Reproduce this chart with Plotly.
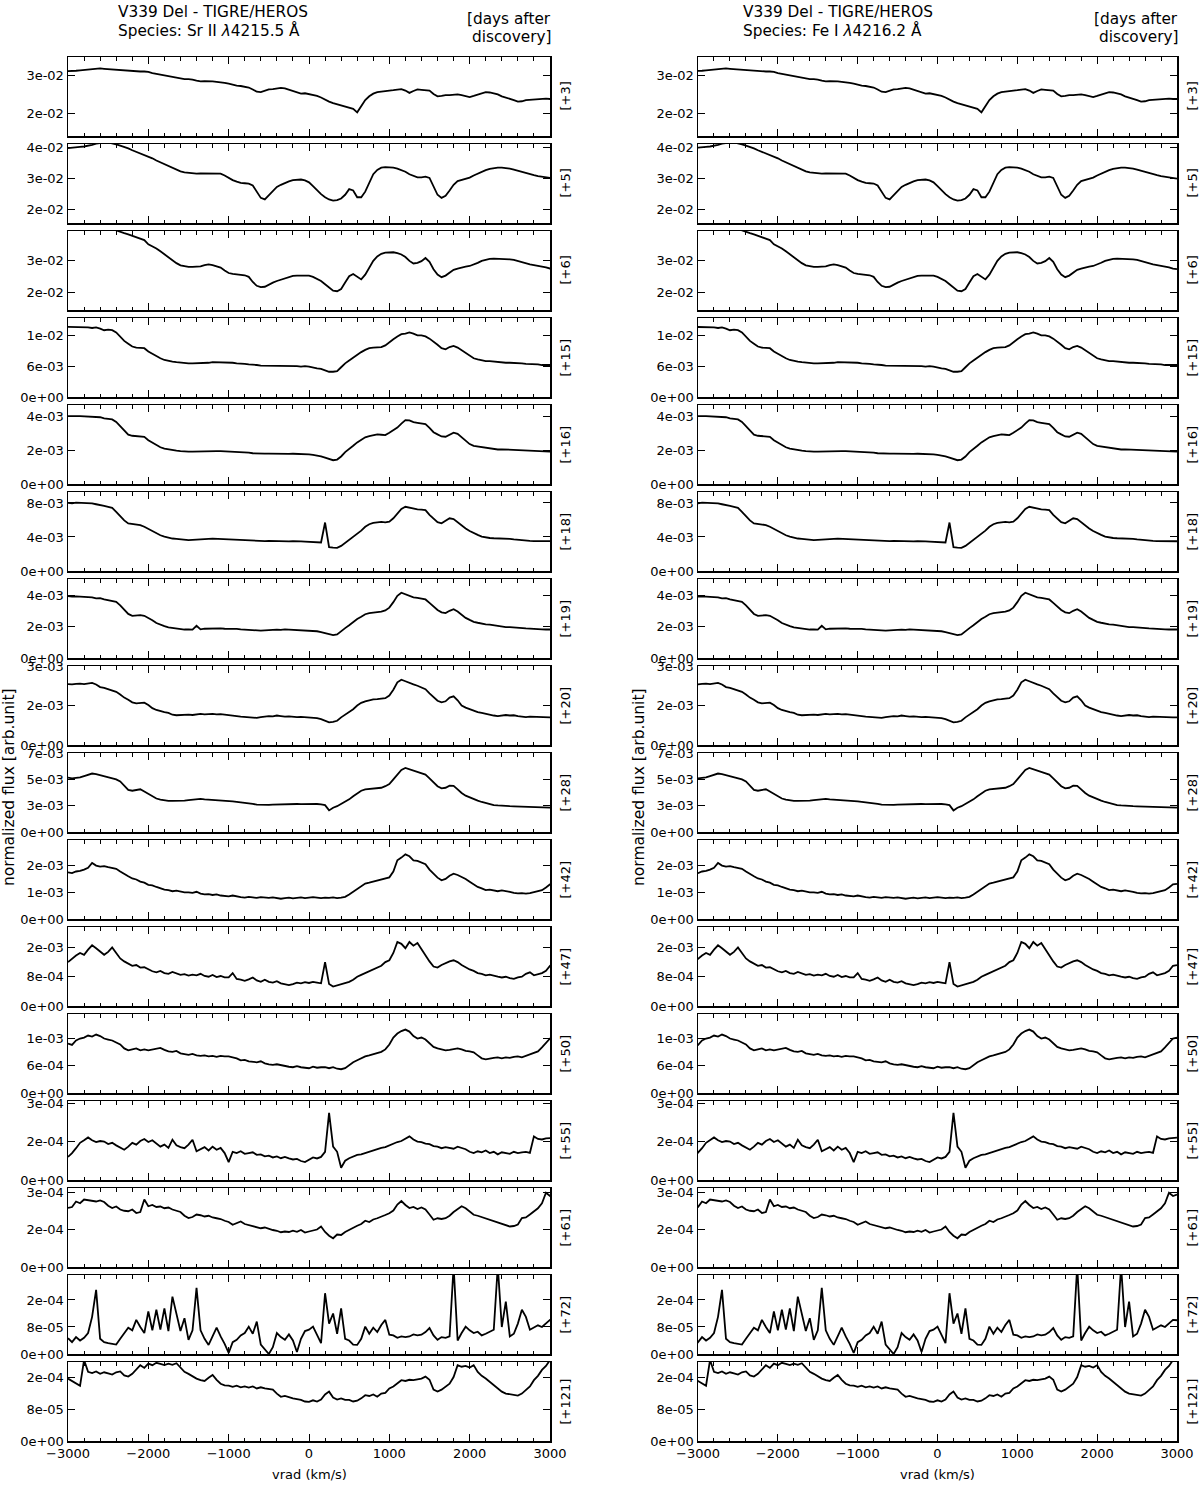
import plotly.graph_objects as go

# ---------------- data ----------------
C_KMS = 299792.458
LAM_SR = 4215.5   # Sr II reference wavelength (A)
LAM_FE = 4216.2   # Fe I reference wavelength (A)
VRAD_SR = list(range(-3000, 3051, 50))   # radial velocity grid w.r.t. Sr II (km/s)

EPOCHS = ["+3", "+5", "+6", "+15", "+16", "+18", "+19", "+20",
          "+28", "+42", "+47", "+50", "+55", "+61", "+72", "+121"]
UNITS = [1e-2, 1e-2, 1e-2, 1e-3, 1e-3, 1e-3, 1e-3, 1e-3,
         1e-3, 1e-3, 1e-3, 1e-3, 1e-4, 1e-4, 1e-4, 1e-4]

F_P03 = [3.11,3.11,3.12,3.13,3.14,3.15,3.16,3.17,3.18,3.17,
         3.16,3.15,3.15,3.14,3.13,3.12,3.12,3.11,3.10,3.10,
         3.09,3.06,3.04,3.01,2.99,2.97,2.97,2.95,2.92,2.90,
         2.90,2.89,2.86,2.84,2.85,2.85,2.84,2.83,2.82,2.80,
         2.78,2.75,2.73,2.72,2.71,2.68,2.63,2.57,2.56,2.60,
         2.63,2.64,2.65,2.67,2.66,2.63,2.60,2.56,2.52,2.53,
         2.51,2.48,2.46,2.42,2.36,2.31,2.27,2.24,2.21,2.17,
         2.16,2.12,2.03,2.19,2.35,2.45,2.52,2.56,2.58,2.59,
         2.60,2.61,2.63,2.64,2.60,2.54,2.59,2.63,2.62,2.61,
         2.60,2.51,2.45,2.46,2.48,2.48,2.49,2.50,2.48,2.46,
         2.43,2.46,2.50,2.54,2.56,2.55,2.53,2.50,2.45,2.42,
         2.38,2.35,2.31,2.32,2.35,2.36,2.37,2.37,2.38,2.39,
         2.38,2.38]
F_P05 = [3.98,4.00,4.01,4.02,4.03,4.05,4.08,4.12,4.15,4.16,
         4.16,4.14,4.10,4.06,4.02,3.97,3.91,3.86,3.80,3.75,
         3.70,3.65,3.58,3.52,3.46,3.39,3.33,3.27,3.23,3.20,
         3.18,3.17,3.16,3.17,3.17,3.17,3.18,3.18,3.16,3.10,
         3.02,2.95,2.90,2.86,2.85,2.84,2.78,2.58,2.38,2.33,
         2.46,2.62,2.73,2.80,2.86,2.91,2.95,2.97,2.97,2.94,
         2.88,2.76,2.62,2.50,2.40,2.33,2.29,2.31,2.36,2.48,
         2.66,2.62,2.40,2.40,2.58,2.88,3.14,3.28,3.35,3.37,
         3.37,3.35,3.32,3.28,3.22,3.14,3.08,3.04,3.04,3.06,
         3.02,2.72,2.48,2.38,2.45,2.62,2.80,2.92,2.96,2.99,
         3.03,3.10,3.16,3.22,3.27,3.31,3.34,3.35,3.35,3.34,
         3.32,3.29,3.25,3.21,3.17,3.14,3.11,3.08,3.06,3.03,
         3.01,3.00]
F_P06 = [4.30,4.30,4.29,4.28,4.27,4.25,4.22,4.18,4.14,4.08,
         4.03,3.98,3.93,3.89,3.85,3.81,3.77,3.73,3.69,3.63,
         3.50,3.44,3.37,3.28,3.18,3.10,3.01,2.91,2.84,2.81,
         2.79,2.79,2.79,2.81,2.85,2.87,2.85,2.81,2.77,2.68,
         2.60,2.57,2.55,2.54,2.53,2.48,2.32,2.20,2.16,2.17,
         2.24,2.30,2.35,2.39,2.42,2.46,2.51,2.52,2.52,2.53,
         2.52,2.48,2.42,2.35,2.25,2.15,2.05,2.03,2.10,2.30,
         2.50,2.57,2.47,2.40,2.55,2.78,2.98,3.12,3.20,3.24,
         3.25,3.25,3.22,3.18,3.10,2.98,2.90,2.92,2.97,3.07,
         2.95,2.72,2.55,2.47,2.52,2.62,2.70,2.74,2.78,2.80,
         2.82,2.86,2.92,2.98,3.02,3.04,3.05,3.05,3.04,3.04,
         3.03,3.01,2.97,2.94,2.90,2.87,2.85,2.83,2.80,2.78,
         2.74,2.72]
F_P15 = [12.5,12.5,12.4,12.5,12.4,12.4,12.3,12.4,12.2,11.9,
         12.0,11.9,11.5,10.8,10.0,9.5,9.0,8.8,8.7,8.7,
         8.1,7.7,7.2,6.9,6.6,6.4,6.3,6.2,6.1,6.0,
         6.0,6.0,6.0,6.1,6.1,6.1,6.2,6.2,6.2,6.2,
         6.1,6.1,6.0,6.0,5.9,5.8,5.8,5.7,5.6,5.6,
         5.6,5.6,5.6,5.5,5.6,5.5,5.5,5.5,5.4,5.5,
         5.4,5.2,5.1,5.0,4.8,4.5,4.5,4.6,5.3,6.0,
         6.5,7.0,7.6,8.0,8.4,8.7,8.8,8.9,8.9,9.2,
         9.8,10.3,10.8,11.2,11.3,11.5,11.3,11.0,11.0,10.8,
         10.4,9.9,9.3,8.7,8.5,8.9,9.1,8.8,8.3,7.8,
         7.3,6.9,6.7,6.5,6.4,6.4,6.3,6.2,6.2,6.1,
         6.1,6.1,6.0,6.0,5.9,5.9,5.8,5.8,5.7,5.7,
         5.7,5.7]
F_P16 = [4.00,3.98,3.99,4.00,3.99,3.97,3.98,3.95,3.93,3.86,
         3.82,3.80,3.65,3.40,3.10,2.90,2.84,2.83,2.80,2.78,
         2.58,2.45,2.28,2.16,2.08,2.03,2.00,1.96,1.93,1.90,
         1.90,1.91,1.92,1.93,1.93,1.94,1.93,1.94,1.93,1.92,
         1.92,1.91,1.90,1.89,1.88,1.85,1.81,1.79,1.78,1.79,
         1.79,1.78,1.78,1.79,1.78,1.77,1.78,1.78,1.77,1.76,
         1.74,1.71,1.68,1.63,1.55,1.48,1.40,1.44,1.62,1.88,
         2.05,2.25,2.45,2.62,2.75,2.82,2.88,2.92,2.90,2.88,
         3.02,3.15,3.32,3.55,3.76,3.74,3.64,3.60,3.57,3.52,
         3.30,3.05,2.92,2.80,2.78,2.90,3.02,2.95,2.75,2.52,
         2.35,2.24,2.20,2.18,2.15,2.10,2.05,2.03,2.04,2.03,
         2.01,2.00,1.99,1.98,1.96,1.95,1.94,1.93,1.91,1.90,
         1.90,1.90]
F_P18 = [8.00,7.96,8.04,8.02,8.06,8.03,7.95,7.85,7.78,7.66,
         7.55,7.42,6.95,6.40,5.95,5.60,5.52,5.48,5.40,5.20,
         4.95,4.70,4.40,4.20,4.05,3.90,3.82,3.78,3.70,3.65,
         3.62,3.65,3.70,3.72,3.75,3.78,3.80,3.78,3.76,3.75,
         3.74,3.72,3.70,3.65,3.62,3.58,3.55,3.52,3.50,3.52,
         3.55,3.52,3.50,3.52,3.50,3.48,3.50,3.52,3.48,3.45,
         3.42,3.40,3.36,3.35,5.70,2.80,2.75,2.72,2.95,3.30,
         3.65,4.05,4.40,4.75,5.20,5.50,5.65,5.75,5.78,5.72,
         5.80,6.20,6.75,7.30,7.55,7.45,7.30,7.25,7.22,7.15,
         6.60,6.15,5.75,5.60,5.85,6.20,6.10,5.70,5.30,5.00,
         4.70,4.45,4.25,4.05,3.92,3.88,3.85,3.85,3.83,3.80,
         3.78,3.72,3.66,3.62,3.60,3.55,3.52,3.52,3.50,3.52,
         3.50,3.50]
F_P19 = [3.94,3.90,3.92,3.90,3.88,3.90,3.85,3.79,3.80,3.72,
         3.68,3.62,3.57,3.35,3.04,2.80,2.68,2.70,2.72,2.68,
         2.55,2.40,2.22,2.10,2.02,1.94,1.90,1.87,1.84,1.81,
         1.82,1.80,2.05,1.82,1.86,1.87,1.88,1.87,1.88,1.86,
         1.87,1.86,1.85,1.82,1.80,1.78,1.75,1.72,1.74,1.76,
         1.78,1.77,1.80,1.79,1.82,1.80,1.79,1.76,1.74,1.75,
         1.74,1.72,1.70,1.65,1.58,1.48,1.45,1.50,1.72,1.90,
         2.08,2.30,2.48,2.62,2.78,2.85,2.88,2.92,2.94,3.02,
         3.20,3.55,3.95,4.15,4.05,3.92,3.85,3.82,3.78,3.72,
         3.50,3.25,3.05,2.90,2.85,3.00,3.10,2.95,2.72,2.55,
         2.42,2.30,2.24,2.18,2.14,2.12,2.08,2.02,1.98,1.96,
         1.96,1.93,1.92,1.91,1.88,1.87,1.84,1.83,1.82,1.81,
         1.81,1.81]
F_P20 = [2.31,2.30,2.32,2.33,2.31,2.34,2.36,2.30,2.20,2.17,
         2.12,2.08,2.02,1.92,1.80,1.72,1.62,1.58,1.60,1.61,
         1.52,1.40,1.33,1.28,1.25,1.22,1.15,1.13,1.14,1.16,
         1.15,1.14,1.16,1.18,1.16,1.17,1.18,1.16,1.17,1.15,
         1.14,1.12,1.10,1.08,1.07,1.06,1.04,1.03,1.06,1.08,
         1.10,1.09,1.12,1.10,1.08,1.09,1.07,1.06,1.07,1.06,
         1.05,1.04,1.02,0.98,0.92,0.86,0.88,0.92,1.05,1.16,
         1.24,1.36,1.50,1.60,1.66,1.70,1.73,1.74,1.75,1.78,
         1.88,2.10,2.38,2.48,2.42,2.35,2.30,2.25,2.20,2.12,
         1.96,1.80,1.68,1.62,1.66,1.80,1.85,1.70,1.50,1.42,
         1.36,1.30,1.25,1.22,1.18,1.16,1.12,1.10,1.12,1.14,
         1.12,1.13,1.10,1.08,1.06,1.08,1.07,1.06,1.05,1.05,
         1.05,1.05]
F_P28 = [5.16,5.10,5.14,5.18,5.30,5.45,5.55,5.50,5.40,5.28,
         5.16,5.08,5.00,4.80,4.40,4.00,3.92,4.02,4.06,3.85,
         3.62,3.40,3.18,3.08,3.00,2.96,2.96,2.95,2.97,2.98,
         3.02,3.08,3.12,3.14,3.10,3.08,3.06,3.04,3.02,2.98,
         2.92,2.90,2.85,2.82,2.78,2.72,2.66,2.60,2.58,2.56,
         2.58,2.60,2.62,2.64,2.62,2.64,2.65,2.66,2.64,2.66,
         2.65,2.64,2.66,2.62,2.55,2.05,2.30,2.45,2.65,2.90,
         3.10,3.40,3.70,3.92,4.05,4.10,4.14,4.16,4.20,4.35,
         4.55,5.00,5.45,5.90,6.08,5.95,5.78,5.65,5.55,5.45,
         5.10,4.70,4.35,4.15,4.20,4.40,4.38,4.05,3.70,3.45,
         3.28,3.12,2.98,2.85,2.74,2.62,2.56,2.52,2.48,2.46,
         2.45,2.44,2.42,2.40,2.38,2.36,2.34,2.33,2.32,2.32,
         2.31,2.31]
F_P42 = [1.75,1.72,1.78,1.80,1.85,1.92,2.10,2.00,1.96,1.98,
         1.94,1.90,1.88,1.78,1.68,1.60,1.52,1.48,1.40,1.36,
         1.28,1.26,1.20,1.14,1.10,1.08,1.04,1.06,1.02,1.00,
         1.00,0.98,1.02,0.95,0.92,0.93,0.90,0.92,0.88,0.87,
         0.85,0.88,0.84,0.82,0.80,0.83,0.81,0.79,0.82,0.80,
         0.79,0.81,0.78,0.76,0.78,0.80,0.77,0.79,0.81,0.78,
         0.79,0.82,0.80,0.78,0.80,0.79,0.81,0.78,0.80,0.83,
         0.92,1.02,1.12,1.25,1.33,1.36,1.40,1.44,1.48,1.50,
         1.56,1.78,2.20,2.30,2.42,2.35,2.20,2.18,2.10,2.05,
         1.85,1.68,1.55,1.45,1.50,1.62,1.70,1.65,1.58,1.50,
         1.40,1.30,1.20,1.15,1.08,1.10,1.06,1.04,1.07,1.05,
         1.02,0.98,0.96,0.97,0.95,0.97,1.00,1.04,1.08,1.18,
         1.30,1.32]
F_P47 = [1.20,1.30,1.38,1.45,1.40,1.54,1.66,1.58,1.50,1.40,
         1.48,1.60,1.45,1.30,1.22,1.15,1.10,1.12,1.05,1.06,
         1.00,0.95,0.92,0.96,0.90,0.88,0.93,0.90,0.85,0.87,
         0.83,0.86,0.84,0.88,0.82,0.80,0.85,0.79,0.82,0.78,
         0.78,0.90,0.74,0.72,0.69,0.73,0.78,0.70,0.66,0.72,
         0.66,0.64,0.68,0.62,0.60,0.57,0.60,0.64,0.62,0.65,
         0.63,0.66,0.64,0.62,1.20,0.60,0.53,0.56,0.60,0.63,
         0.66,0.72,0.80,0.85,0.90,0.95,1.00,1.04,1.10,1.20,
         1.25,1.45,1.75,1.70,1.58,1.75,1.65,1.72,1.55,1.40,
         1.22,1.08,1.05,1.12,1.18,1.22,1.25,1.20,1.12,1.05,
         1.00,0.96,0.90,0.88,0.84,0.86,0.82,0.80,0.78,0.80,
         0.76,0.74,0.78,0.80,0.88,0.92,0.84,0.86,0.90,0.96,
         1.10,1.12]
F_P50 = [1.00,0.97,1.06,1.10,1.12,1.16,1.14,1.18,1.15,1.10,
         1.08,1.06,1.02,0.98,0.90,0.86,0.88,0.90,0.86,0.88,
         0.86,0.88,0.90,0.91,0.87,0.84,0.83,0.85,0.80,0.78,
         0.77,0.79,0.76,0.75,0.76,0.74,0.75,0.73,0.75,0.74,
         0.74,0.72,0.70,0.66,0.67,0.64,0.63,0.62,0.64,0.60,
         0.58,0.57,0.58,0.56,0.55,0.53,0.52,0.54,0.52,0.51,
         0.50,0.53,0.51,0.52,0.52,0.50,0.52,0.49,0.48,0.50,
         0.56,0.62,0.66,0.70,0.74,0.76,0.78,0.80,0.83,0.88,
         0.98,1.12,1.20,1.25,1.28,1.24,1.15,1.10,1.12,1.08,
         1.00,0.93,0.90,0.88,0.86,0.87,0.88,0.90,0.88,0.85,
         0.84,0.82,0.76,0.70,0.68,0.70,0.71,0.72,0.70,0.72,
         0.71,0.73,0.74,0.72,0.75,0.78,0.80,0.84,0.92,1.00,
         1.10,1.12]
F_P55 = [0.90,1.05,1.24,1.45,1.55,1.66,1.55,1.48,1.52,1.50,
         1.40,1.45,1.35,1.25,1.18,1.30,1.45,1.38,1.52,1.60,
         1.48,1.55,1.42,1.30,1.38,1.25,1.57,1.35,1.28,1.24,
         1.38,1.57,1.12,1.20,1.28,1.15,1.30,1.18,1.25,1.05,
         0.70,1.10,1.05,1.12,1.02,1.05,1.08,0.98,1.00,0.92,
         0.95,0.88,0.92,0.85,0.90,0.84,0.80,0.82,0.74,0.70,
         0.80,0.88,0.84,0.90,1.10,2.62,1.30,1.10,0.48,0.75,
         0.85,0.92,0.98,1.00,1.05,1.12,1.18,1.22,1.25,1.28,
         1.35,1.40,1.48,1.52,1.60,1.70,1.58,1.50,1.48,1.42,
         1.40,1.32,1.30,1.24,1.28,1.26,1.22,1.30,1.25,1.20,
         1.10,1.05,1.12,1.08,1.15,1.05,1.10,1.00,1.08,1.05,
         1.02,1.10,1.05,1.08,1.10,1.06,1.70,1.60,1.58,1.62,
         1.63,1.65]
F_P61 = [2.36,2.40,2.62,2.55,2.70,2.68,2.65,2.62,2.66,2.60,
         2.45,2.36,2.42,2.30,2.25,2.23,2.30,2.16,2.20,2.70,
         2.43,2.48,2.40,2.42,2.35,2.38,2.30,2.26,2.20,2.05,
         1.96,2.00,2.10,2.07,2.02,2.05,1.98,1.95,1.92,1.85,
         1.80,1.69,1.75,1.82,1.72,1.68,1.62,1.60,1.55,1.58,
         1.52,1.48,1.45,1.39,1.42,1.40,1.45,1.41,1.48,1.38,
         1.42,1.45,1.50,1.62,1.40,1.25,1.15,1.30,1.28,1.40,
         1.49,1.55,1.65,1.72,1.85,1.80,1.90,1.95,2.03,2.08,
         2.15,2.26,2.50,2.64,2.48,2.36,2.40,2.32,2.38,2.30,
         2.10,1.89,1.95,1.92,1.95,2.05,2.20,2.30,2.43,2.35,
         2.20,2.09,2.05,2.00,1.92,1.89,1.85,1.80,1.72,1.69,
         1.62,1.64,1.70,1.96,1.98,2.10,2.23,2.35,2.55,2.97,
         2.84,2.90]
F_P72 = [0.47,0.35,0.50,0.40,0.48,0.62,1.10,1.90,0.45,0.35,
         0.32,0.30,0.28,0.45,0.62,0.78,0.70,1.01,0.80,0.62,
         1.26,0.70,1.31,0.72,1.35,0.68,1.70,1.20,0.68,1.06,
         0.42,0.70,1.96,0.70,0.45,0.27,0.55,0.78,0.52,0.30,
         0.03,0.35,0.42,0.55,0.62,0.81,0.60,0.96,0.28,0.15,
         0.00,0.20,0.62,0.50,0.42,0.58,0.40,0.06,0.45,0.68,
         0.72,0.81,0.55,0.32,1.80,0.90,1.20,0.60,1.35,0.45,
         0.40,0.28,0.27,0.45,0.81,0.60,0.78,0.65,0.86,1.01,
         0.57,0.55,0.48,0.52,0.50,0.52,0.58,0.55,0.57,0.65,
         0.77,0.55,0.42,0.50,0.48,0.52,2.60,0.40,0.62,0.81,
         0.70,0.62,0.66,0.55,0.60,0.66,0.72,2.60,0.80,1.55,
         0.52,0.60,0.90,1.31,1.10,0.72,0.78,0.85,0.80,0.92,
         1.01,1.00]
F_P121 = [1.58,1.52,1.48,1.40,2.05,1.75,1.72,1.76,1.70,1.74,
          1.71,1.68,1.74,1.76,1.66,1.63,1.70,1.80,1.92,1.85,
          1.96,1.92,1.98,1.95,1.92,1.96,1.93,1.97,1.85,1.75,
          1.70,1.63,1.58,1.54,1.52,1.60,1.67,1.55,1.45,1.41,
          1.40,1.37,1.40,1.36,1.38,1.35,1.38,1.33,1.36,1.33,
          1.32,1.30,1.20,1.12,1.14,1.10,1.08,1.06,1.04,1.00,
          0.99,1.03,1.00,1.05,1.18,1.25,1.10,1.05,1.08,1.04,
          1.04,1.00,1.02,1.08,1.16,1.14,1.18,1.12,1.20,1.22,
          1.33,1.38,1.45,1.54,1.52,1.55,1.54,1.56,1.58,1.63,
          1.55,1.30,1.25,1.30,1.38,1.45,1.62,1.92,1.88,1.90,
          1.86,1.92,1.75,1.65,1.58,1.50,1.40,1.33,1.25,1.20,
          1.18,1.16,1.15,1.20,1.30,1.38,1.54,1.65,1.80,1.90,
          2.05,2.15]

FLUX = [F_P03, F_P05, F_P06, F_P15, F_P16, F_P18, F_P19, F_P20,
        F_P28, F_P42, F_P47, F_P50, F_P55, F_P61, F_P72, F_P121]

# y axis ranges / ticks in the panel units above
Y_RANGE = [(1.41, 3.48), (1.574, 4.11), (1.442, 3.916), (0, 14.08),
           (0, 4.65), (0, 9.29), (0, 5.02), (0, 3.0005),
           (0, 7.5005), (0, 2.96), (0, 2.16), (0, 1.595),
           (0, 3.08), (0, 3.16), (0, 2.34), (0, 2.0)]
Y_TICKS = [[2, 3], [2, 3, 4], [2, 3], [0, 5.5, 11], [0, 2, 4], [0, 4, 8],
           [0, 2, 4], [0, 1.5, 3], [0, 2.5, 5, 7.5], [0, 1, 2],
           [0, 0.8, 1.6], [0, 0.55, 1.1], [0, 1.5, 3], [0, 1.5, 3],
           [0, 0.8, 1.6], [0, 0.8, 1.6]]
Y_TICKTEXT = [["2e-02", "3e-02"], ["2e-02", "3e-02", "4e-02"], ["2e-02", "3e-02"],
              ["0e+00", "6e-03", "1e-02"], ["0e+00", "2e-03", "4e-03"],
              ["0e+00", "4e-03", "8e-03"], ["0e+00", "2e-03", "4e-03"],
              ["0e+00", "2e-03", "3e-03"], ["0e+00", "3e-03", "5e-03", "7e-03"],
              ["0e+00", "1e-03", "2e-03"], ["0e+00", "8e-04", "2e-03"],
              ["0e+00", "6e-04", "1e-03"], ["0e+00", "2e-04", "3e-04"],
              ["0e+00", "2e-04", "3e-04"], ["0e+00", "8e-05", "2e-04"],
              ["0e+00", "8e-05", "2e-04"]]
X_TICKS = [-3000, -2000, -1000, 0, 1000, 2000, 3000]
X_TICKTEXT = ["\u22123000", "\u22122000", "\u22121000", "0", "1000", "2000", "3000"]
SPECIES = ["Sr II <i>\u03bb</i>4215.5 \u00c5", "Fe I <i>\u03bb</i>4216.2 \u00c5"]

for name, f in zip(EPOCHS, FLUX):
    if len(f) != len(VRAD_SR):
        raise ValueError(f"panel {name}: {len(f)} values, expected {len(VRAD_SR)}")

# Fe I velocity axis from the same wavelengths
VRAD_FE = [((LAM_SR * (1 + v / C_KMS)) - LAM_FE) / LAM_FE * C_KMS for v in VRAD_SR]
VRADS = [VRAD_SR, VRAD_FE]

# ---------------- layout ----------------
W, H = 1200, 1485
COL_X = [(68, 550), (698, 1177)]
TOP0, PITCH, PH = 57, 87, 79
FONT = "DejaVu Sans, Verdana, sans-serif"


def px(x):
    return x / W


def py(y):
    return 1 - y / H


fig = go.Figure()
layout = {}
annotations = []

for c in range(2):
    x0, x1 = COL_X[c]
    for i in range(16):
        idx = c * 16 + i + 1
        sfx = "" if idx == 1 else str(idx)
        unit = UNITS[i]
        fig.add_trace(go.Scatter(
            x=VRADS[c], y=[v * unit for v in FLUX[i]], mode="lines",
            line=dict(color="black", width=1.8),
            xaxis="x" + sfx, yaxis="y" + sfx, showlegend=False, hoverinfo="skip"))
        top = TOP0 + PITCH * i
        bot = top + PH
        common = dict(showline=True, linecolor="black", linewidth=1.5, mirror="allticks",
                      ticks="inside", ticklen=7, tickwidth=1, tickcolor="black",
                      showgrid=False, zeroline=False, automargin=False,
                      tickfont=dict(size=13, color="black", family=FONT))
        layout["xaxis" + sfx] = dict(
            domain=[px(x0), px(x1)], range=[-3000, 3000], anchor="y" + sfx,
            tickvals=X_TICKS, ticktext=X_TICKTEXT, showticklabels=(i == 15),
            minor=dict(ticks="inside", dtick=200, tick0=0, ticklen=3.5,
                       tickwidth=1, tickcolor="black", showgrid=False),
            **common)
        layout["yaxis" + sfx] = dict(
            domain=[py(bot), py(top)],
            range=[Y_RANGE[i][0] * unit, Y_RANGE[i][1] * unit], anchor="x" + sfx,
            tickvals=[t * unit for t in Y_TICKS[i]], ticktext=Y_TICKTEXT[i],
            **common)
        annotations.append(dict(
            x=px(x1 + 15), y=py(top + PH / 2), xref="paper", yref="paper",
            text="[" + EPOCHS[i] + "]", textangle=-90, showarrow=False,
            xanchor="center", yanchor="middle",
            font=dict(size=13, color="black", family=FONT)))

    tx = 116 if c == 0 else 741
    annotations.append(dict(x=px(tx), y=py(12), xref="paper", yref="paper",
                            text="V339 Del - TIGRE/HEROS", showarrow=False,
                            xanchor="left", yanchor="middle",
                            font=dict(size=15.3, color="black", family=FONT)))
    annotations.append(dict(x=px(tx), y=py(30), xref="paper", yref="paper",
                            text="Species: " + SPECIES[c], showarrow=False,
                            xanchor="left", yanchor="middle",
                            font=dict(size=15.3, color="black", family=FONT)))
    annotations.append(dict(x=px(x1 + 3), y=py(19), xref="paper", yref="paper",
                            text="[days after", showarrow=False,
                            xanchor="right", yanchor="middle",
                            font=dict(size=15.3, color="black", family=FONT)))
    annotations.append(dict(x=px(x1 + 3), y=py(37), xref="paper", yref="paper",
                            text="discovery]", showarrow=False,
                            xanchor="right", yanchor="middle",
                            font=dict(size=15.3, color="black", family=FONT)))
    annotations.append(dict(x=px(x0 - 59), y=py(787), xref="paper", yref="paper",
                            text="normalized flux [arb.unit]", textangle=-90,
                            showarrow=False, xanchor="center", yanchor="middle",
                            font=dict(size=15.5, color="black", family=FONT)))
    annotations.append(dict(x=px((x0 + x1) / 2), y=py(1474), xref="paper", yref="paper",
                            text="vrad (km/s)", showarrow=False,
                            xanchor="center", yanchor="middle",
                            font=dict(size=13, color="black", family=FONT)))

fig.update_layout(**layout)
fig.update_layout(
    width=W, height=H, autosize=False,
    margin=dict(l=0, r=0, t=0, b=0, pad=0, autoexpand=False),
    paper_bgcolor="white", plot_bgcolor="white",
    font=dict(family=FONT, color="black"),
    annotations=annotations,
    hovermode=False,
)

# let the 1200x1485 figure fill the page exactly (no body margin, no scrollbars)
PAGE_JS = ("document.documentElement.style.margin='0';"
           "document.documentElement.style.overflow='hidden';"
           "document.body.style.margin='0';"
           "document.body.style.padding='0';"
           "document.body.style.overflow='hidden';")

fig.write_html("out.html", post_script=PAGE_JS,
               config={"displayModeBar": False, "staticPlot": True})
